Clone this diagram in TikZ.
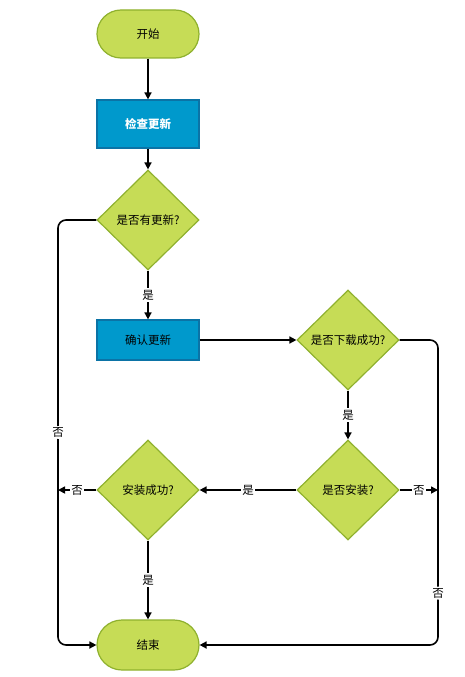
\documentclass[tikz,border=0pt]{standalone}
\usepackage{fontspec}
\setmainfont{Noto Sans CJK SC}
\usepackage{xcolor}
\usetikzlibrary{shapes.geometric,arrows.meta}
\definecolor{leaf}{HTML}{C6DC56}
\definecolor{leafline}{HTML}{8FB12E}
\definecolor{sea}{HTML}{0099CC}
\definecolor{sealine}{HTML}{0B73A6}

\begin{document}
\begin{tikzpicture}[x=1pt,y=-1pt,font=\fontsize{11.5}{13}\selectfont,line width=1.6pt,>={Triangle[length=7pt,width=7pt]}]
\tikzstyle{every node}+=[inner sep=0pt]
\tikzstyle{terminal}=[draw=leafline,fill=leaf,line width=1.2pt,rounded corners=24pt,minimum width=102pt,minimum height=48pt]
\tikzstyle{process}=[draw=sealine,fill=sea,line width=1.2pt,minimum width=102pt,minimum height=48pt]
\tikzstyle{decision}=[diamond,draw=leafline,fill=leaf,line width=1.2pt,minimum width=102pt,minimum height=100pt]
\tikzstyle{tag}=[fill=white,inner sep=1.5pt]
\useasboundingbox (0,0) rectangle (464,677);
% nodes
\node [terminal] (start) at (148,34) {开始};
\node [process,text=white,font=\fontsize{11.5}{13}\selectfont\bfseries] (check) at (148,124) {检查更新};
\node [decision] (hasnew) at (148,220) {是否有更新?};
\node [process,minimum height=40pt] (confirm) at (148,340) {确认更新};
\node [decision] (loaded) at (348,340) {是否下载成功?};
\node [decision] (install) at (348,490) {是否安装?};
\node [decision] (done) at (148,490) {安装成功?};
\node [terminal,minimum height=50pt,rounded corners=25pt] (finish) at (148,645) {结束};
% corners of the side lines
\coordinate (ltop) at (58,220);
\coordinate (lbot) at (58,645);
\coordinate (rtop) at (438,340);
\coordinate (rbot) at (438,645);
\coordinate (lmid) at (58,490);
\coordinate (rmid) at (438,490);
% connectors
\draw [->] (start) -- (check);
\draw [->] (check) -- (hasnew);
\draw [->] (hasnew) -- node [tag] {是} (confirm);
\draw [->] (confirm) -- (loaded);
\draw [->] (loaded) -- node [tag] {是} (install);
\draw [->] (install) -- node [tag] {是} (done);
\draw [->] (done) -- node [tag] {是} (finish);
\draw [->] (install.east) -- node [tag] {否} (rmid);
\draw [->] (done.west) -- node [tag] {否} (lmid);
\draw [->,rounded corners=8pt] (hasnew.west) -- (ltop) -- node [tag] {否} (lbot) -- (finish.west);
\draw [->,rounded corners=8pt] (loaded.east) -- (rtop) -- node [tag,pos=0.83] {否} (rbot) -- (finish.east);
\end{tikzpicture}
\end{document}
